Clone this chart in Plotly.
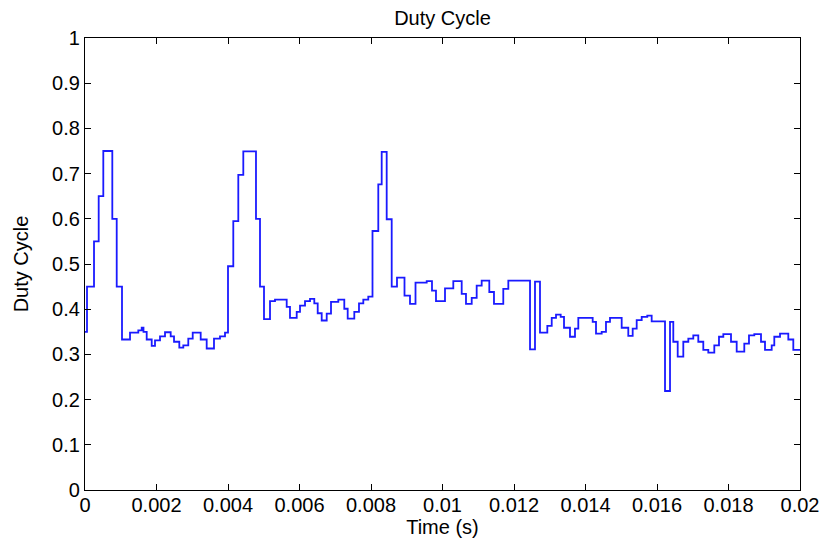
import plotly.graph_objects as go

# Duty cycle of the converter: a piecewise-constant signal, one value per update interval.
# step_start_s[i] is the instant at which duty[i] takes effect.
step_start_s = [
    0.0, 0.000056, 0.000252, 0.000383, 0.000512, 0.000764, 0.000887, 0.001035,
    0.001259, 0.001491, 0.001586, 0.001636, 0.001726, 0.001866, 0.001958, 0.002098,
    0.002238, 0.002397, 0.002490, 0.002638, 0.002750, 0.002889, 0.003013, 0.003236,
    0.003404, 0.003608, 0.003776, 0.003916, 0.004000, 0.004148, 0.004288, 0.004428,
    0.004783, 0.004895, 0.005007, 0.005175, 0.005315, 0.005642, 0.005734, 0.005922,
    0.006014, 0.006154, 0.006294, 0.006414, 0.006509, 0.006621, 0.006761, 0.006881,
    0.007085, 0.007253, 0.007348, 0.007533, 0.007664, 0.007785, 0.007924, 0.008042,
    0.008204, 0.008299, 0.008439, 0.008579, 0.008727, 0.008937, 0.009091, 0.009245,
    0.009558, 0.009706, 0.009818, 0.010070, 0.010302, 0.010537, 0.010657, 0.010817,
    0.010956, 0.011096, 0.011309, 0.011440, 0.011700, 0.011841, 0.012448, 0.012587,
    0.012727, 0.012932, 0.013055, 0.013175, 0.013306, 0.013399, 0.013566, 0.013706,
    0.013799, 0.014201, 0.014294, 0.014453, 0.014573, 0.014685, 0.015012, 0.015197,
    0.015320, 0.015432, 0.015572, 0.015728, 0.015851, 0.016224, 0.016364, 0.016456,
    0.016579, 0.016736, 0.016876, 0.017015, 0.017155, 0.017295, 0.017435, 0.017603,
    0.017734, 0.017855, 0.018070, 0.018229, 0.018442, 0.018573, 0.018722, 0.018909,
    0.019021, 0.019208, 0.019281, 0.019441, 0.019673, 0.019813,
]
duty = [
    0.35, 0.45, 0.55, 0.65, 0.75, 0.60, 0.45, 0.333,
    0.348, 0.353, 0.359, 0.350, 0.333, 0.319, 0.331, 0.340,
    0.349, 0.340, 0.328, 0.315, 0.320, 0.335, 0.348, 0.333,
    0.313, 0.335, 0.340, 0.348, 0.495, 0.595, 0.697, 0.749,
    0.600, 0.450, 0.378, 0.418, 0.421, 0.405, 0.381, 0.394,
    0.408, 0.418, 0.423, 0.413, 0.391, 0.375, 0.390, 0.416,
    0.421, 0.401, 0.379, 0.394, 0.413, 0.421, 0.428, 0.573,
    0.676, 0.748, 0.599, 0.450, 0.470, 0.430, 0.412, 0.459,
    0.462, 0.441, 0.418, 0.446, 0.462, 0.434, 0.412, 0.425,
    0.452, 0.463, 0.438, 0.412, 0.445, 0.463, 0.311, 0.461,
    0.348, 0.363, 0.381, 0.388, 0.383, 0.359, 0.339, 0.357,
    0.381, 0.372, 0.346, 0.350, 0.372, 0.381, 0.359, 0.341,
    0.357, 0.376, 0.383, 0.386, 0.373, 0.219, 0.372, 0.328,
    0.295, 0.328, 0.335, 0.342, 0.328, 0.310, 0.304, 0.320,
    0.339, 0.345, 0.328, 0.306, 0.324, 0.342, 0.345, 0.328,
    0.310, 0.320, 0.339, 0.346, 0.333, 0.310,
]
t_end = 0.02

x_tick_vals = [0, 0.002, 0.004, 0.006, 0.008, 0.01, 0.012, 0.014, 0.016, 0.018, 0.02]
x_tick_text = ["0", "0.002", "0.004", "0.006", "0.008", "0.01", "0.012", "0.014", "0.016", "0.018", "0.02"]
y_tick_vals = [0, 0.1, 0.2, 0.3, 0.4, 0.5, 0.6, 0.7, 0.8, 0.9, 1]
y_tick_text = ["0", "0.1", "0.2", "0.3", "0.4", "0.5", "0.6", "0.7", "0.8", "0.9", "1"]

FONT = "Liberation Sans, Arial, Helvetica, sans-serif"

# hold the last value until the end of the record
xs = step_start_s + [t_end]
ys = duty + [duty[-1]]

fig = go.Figure(
    go.Scatter(
        x=xs, y=ys, mode="lines", line_shape="hv",
        line=dict(color="#1a1aff", width=1.8),
        hoverinfo="skip",
    )
)

axis_common = dict(
    showline=True, linecolor="black", linewidth=1.2, mirror="ticks",
    ticks="inside", ticklen=6, tickwidth=1, tickcolor="black",
    showgrid=False, zeroline=False, automargin=False,
    ticklabeloverflow="allow",
    tickfont=dict(family=FONT, size=20, color="black"),
)

fig.update_layout(
    width=821, height=539,
    margin=dict(l=85, r=21, t=38, b=49),
    paper_bgcolor="white", plot_bgcolor="white",
    showlegend=False,
    title=dict(text="Duty Cycle", x=0.539, xanchor="center", y=0.967, yanchor="middle",
               font=dict(family=FONT, size=20, color="black")),
    xaxis=dict(range=[0, 0.02], tickvals=x_tick_vals, ticktext=x_tick_text,
               ticklabelstandoff=-3,
               title=dict(text="Time (s)", standoff=0,
                          font=dict(family=FONT, size=20, color="black")),
               **axis_common),
    yaxis=dict(range=[0, 1], tickvals=y_tick_vals, ticktext=y_tick_text,
               title=dict(text="Duty Cycle", standoff=18,
                          font=dict(family=FONT, size=20, color="black")),
               **axis_common),
)

fig.write_html("out.html")
